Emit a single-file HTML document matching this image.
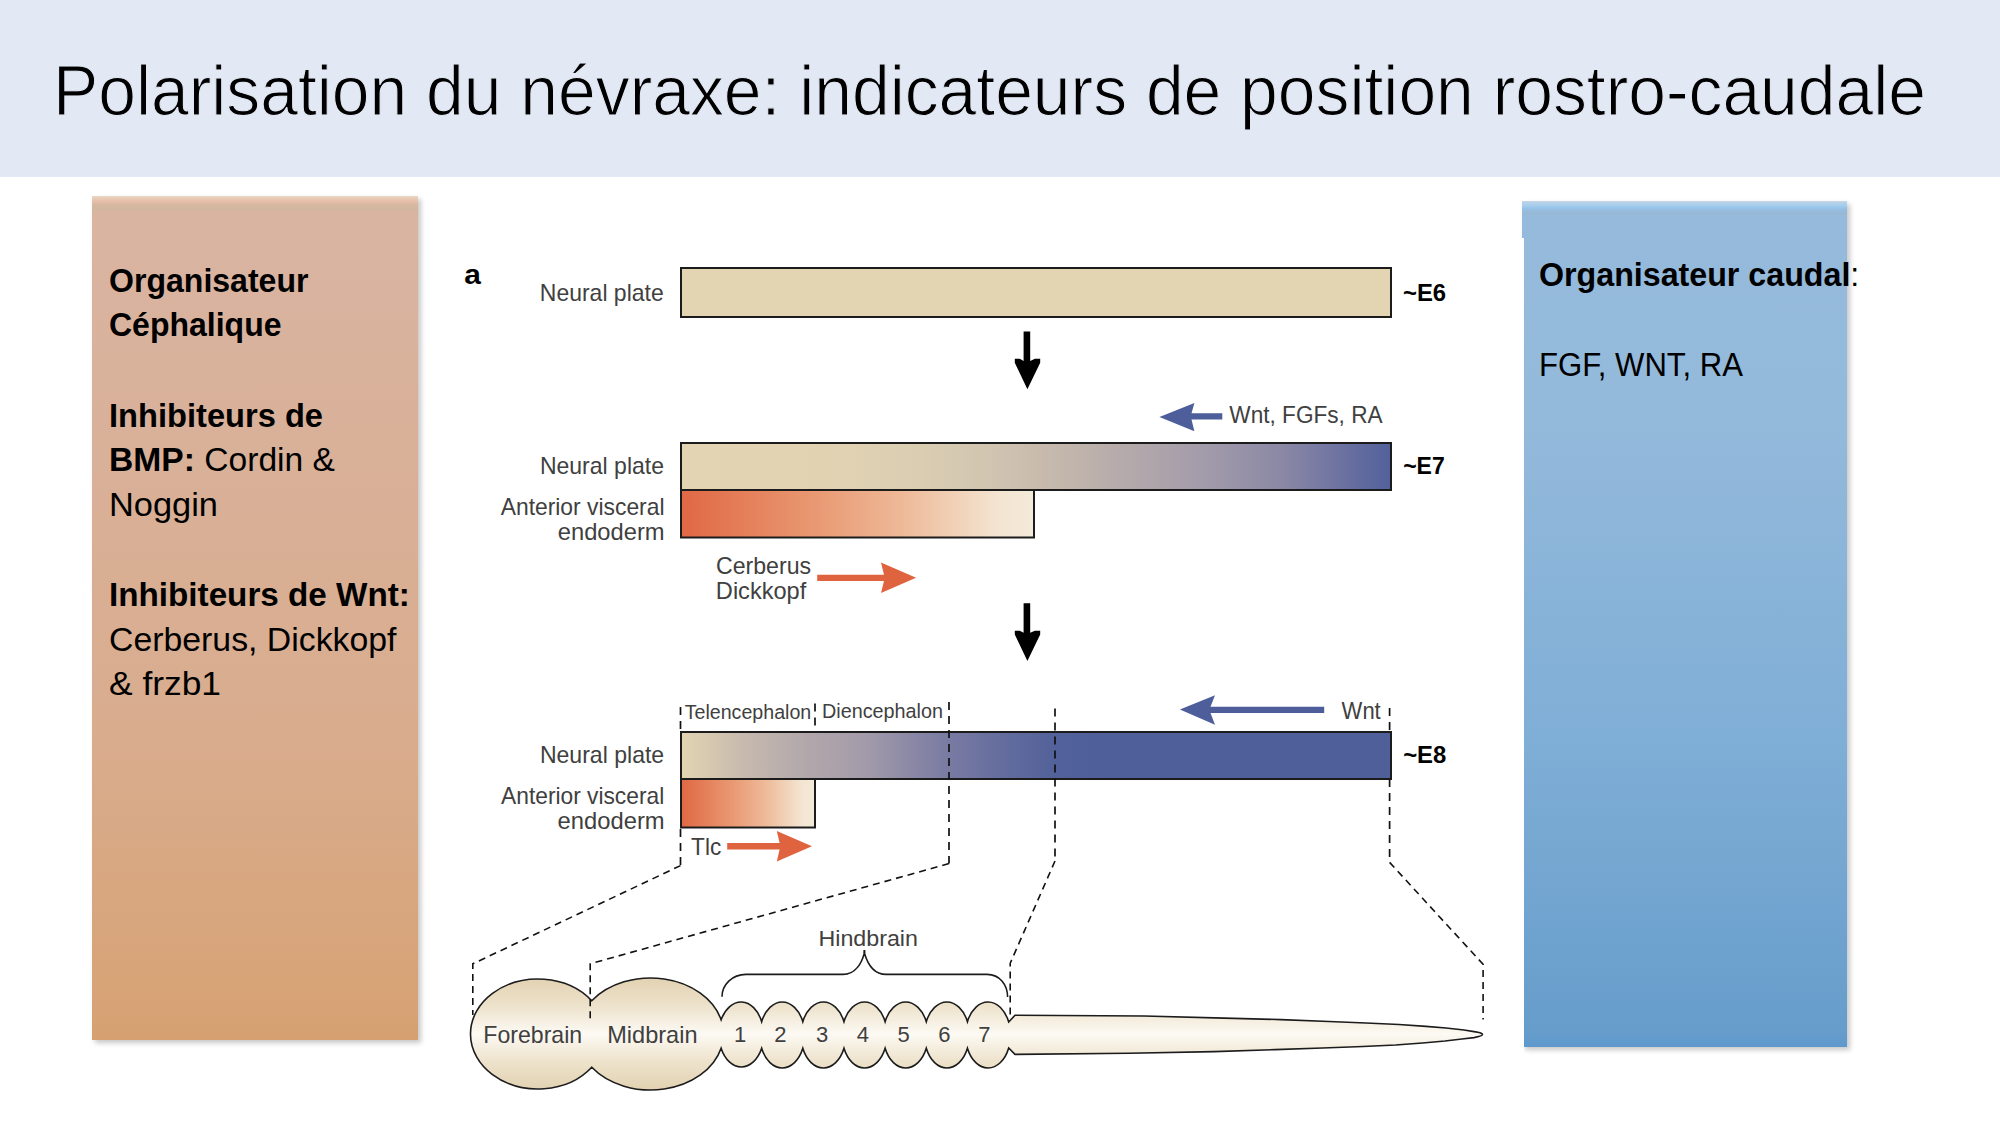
<!DOCTYPE html>
<html>
<head>
<meta charset="utf-8">
<style>
html,body{margin:0;padding:0;background:#fff;}
body{width:2000px;height:1125px;position:relative;overflow:hidden;font-family:"Liberation Sans",sans-serif;}
#hdr{position:absolute;left:0;top:0;width:2000px;height:177px;background:#E2E8F4;}
#lbox{position:absolute;left:92px;top:196px;width:326px;height:844px;
  background:linear-gradient(to bottom,#E6D8C4 0px,#E8C8B3 3px,#E5BCA8 6px,#D6B8A0 9px,#D1B89F 12px,#D9B3A1 16px) top/100% 16px no-repeat,
    linear-gradient(to bottom,#D9B4A1 0%,#D9B4A1 5%,#D9AC8D 65%,#D7A376 96%,#D6A070 100%);
  box-shadow:3px 3px 5px rgba(0,0,0,0.22);}
#rbox{position:absolute;left:1522px;top:201px;width:325px;height:846px;
  background:linear-gradient(to bottom,#C9D8E6 0px,#B5D0E8 2px,#A2CCEE 5px,#95BFE4 8px,#97B9D6 12px,#95BADC 16px) top/100% 16px no-repeat,
    linear-gradient(to bottom,#96BBDD 0%,#95BADC 2%,#93B9DB 27%,#7FAED6 64%,#679DCB 98%,#5E99CD 100%);
  box-shadow:3px 3px 5px rgba(0,0,0,0.22);}
#rcut{position:absolute;left:1490px;top:238px;width:34px;height:830px;background:#fff;}
svg{position:absolute;left:0;top:0;}
</style>
</head>
<body>
<div id="hdr"></div>
<div id="lbox"></div>
<div id="rbox"></div>
<div id="rcut"></div>
<svg width="2000" height="1125" viewBox="0 0 2000 1125">
<defs>
  <linearGradient id="g7" gradientUnits="userSpaceOnUse" x1="681" x2="1391" y1="0" y2="0">
    <stop offset="0.0000" stop-color="#E3D4B3"/>
    <stop offset="0.1676" stop-color="#E2D3B2"/>
    <stop offset="0.2521" stop-color="#DFD1B2"/>
    <stop offset="0.3366" stop-color="#DACDB2"/>
    <stop offset="0.4211" stop-color="#D3C6B1"/>
    <stop offset="0.5056" stop-color="#C8BBAD"/>
    <stop offset="0.6183" stop-color="#B6ABAB"/>
    <stop offset="0.7451" stop-color="#A19AAA"/>
    <stop offset="0.8465" stop-color="#8B88A5"/>
    <stop offset="0.9225" stop-color="#6F74A1"/>
    <stop offset="1.0000" stop-color="#52609C"/>
  </linearGradient>
  <linearGradient id="g8" gradientUnits="userSpaceOnUse" x1="681" x2="1391" y1="0" y2="0">
    <stop offset="0" stop-color="#E2D5B2"/>
    <stop offset="0.09" stop-color="#C7B9AE"/>
    <stop offset="0.18" stop-color="#B1A7AB"/>
    <stop offset="0.265" stop-color="#A29AAA"/>
    <stop offset="0.325" stop-color="#8A88A5"/>
    <stop offset="0.385" stop-color="#7779A2"/>
    <stop offset="0.47" stop-color="#5F6A9D"/>
    <stop offset="0.53" stop-color="#52619A"/>
    <stop offset="0.6" stop-color="#4F5F9A"/>
    <stop offset="1" stop-color="#4F5F9A"/>
  </linearGradient>
  <linearGradient id="gave" x1="0" x2="1" y1="0" y2="0">
    <stop offset="0" stop-color="#E06845"/>
    <stop offset="0.35" stop-color="#E8956E"/>
    <stop offset="0.62" stop-color="#EEB897"/>
    <stop offset="0.9" stop-color="#F3E5D2"/>
    <stop offset="1" stop-color="#F3EAD8"/>
  </linearGradient>
  <linearGradient id="gbrain" gradientUnits="userSpaceOnUse" x1="0" x2="0" y1="978" y2="1090">
    <stop offset="0" stop-color="#E2D2B2"/>
    <stop offset="0.25" stop-color="#EDE2CB"/>
    <stop offset="0.5" stop-color="#FDFAF4"/>
    <stop offset="0.75" stop-color="#EDE2CB"/>
    <stop offset="1" stop-color="#E2D2B2"/>
  </linearGradient>
  <linearGradient id="gtube" gradientUnits="userSpaceOnUse" x1="0" x2="0" y1="1015" y2="1055">
    <stop offset="0" stop-color="#F3EBDD"/>
    <stop offset="0.5" stop-color="#FDFAF4"/>
    <stop offset="1" stop-color="#F3EBDD"/>
  </linearGradient>
</defs>

<!-- title -->
<text x="53" y="114.5" font-family="Liberation Sans" font-size="70" fill="#000" stroke="#E2E8F4" stroke-width="1.1" textLength="1873" lengthAdjust="spacingAndGlyphs">Polarisation du névraxe: indicateurs de position rostro-caudale</text>

<!-- left box text -->
<g font-family="Liberation Sans" font-size="34" fill="#000">
  <text x="109" y="292" font-weight="bold" textLength="199.5" lengthAdjust="spacingAndGlyphs">Organisateur</text>
  <text x="109" y="336" font-weight="bold" textLength="172.5" lengthAdjust="spacingAndGlyphs">Céphalique</text>
  <text x="109" y="427" font-weight="bold" textLength="214" lengthAdjust="spacingAndGlyphs">Inhibiteurs de</text>
  <text x="109" y="471" textLength="226" lengthAdjust="spacingAndGlyphs"><tspan font-weight="bold">BMP:</tspan> Cordin &amp;</text>
  <text x="109" y="516" textLength="109" lengthAdjust="spacingAndGlyphs">Noggin</text>
  <text x="109" y="606" font-weight="bold" textLength="300.8" lengthAdjust="spacingAndGlyphs">Inhibiteurs de Wnt:</text>
  <text x="109" y="651" textLength="287.5" lengthAdjust="spacingAndGlyphs">Cerberus, Dickkopf</text>
  <text x="109" y="695" textLength="112" lengthAdjust="spacingAndGlyphs">&amp; frzb1</text>
</g>
<!-- right box text -->
<g font-family="Liberation Sans" font-size="34" fill="#000">
  <text x="1539" y="286" textLength="320.3" lengthAdjust="spacingAndGlyphs"><tspan font-weight="bold">Organisateur caudal</tspan>:</text>
  <text x="1539" y="376" textLength="203.9" lengthAdjust="spacingAndGlyphs">FGF, WNT, RA</text>
</g>

<!-- bars -->
<rect x="681" y="268" width="710" height="49" fill="#E3D4B2" stroke="#1c1c1c" stroke-width="2"/>
<rect x="681" y="443" width="710" height="47" fill="url(#g7)" stroke="#1c1c1c" stroke-width="2"/>
<rect x="681" y="490" width="353" height="47.5" fill="url(#gave)" stroke="#1c1c1c" stroke-width="2"/>
<rect x="681" y="732" width="710" height="47" fill="url(#g8)" stroke="#1c1c1c" stroke-width="2"/>
<rect x="681" y="779" width="134" height="48.5" fill="url(#gave)" stroke="#1c1c1c" stroke-width="2"/>

<!-- down arrows -->
<polygon points="1023.6,331.4 1030.2,331.4 1030.2,360.9 1034.9,358.8 1040.2,358.8 1040.2,362.7 1027.4,389.2 1014.8,362.7 1014.8,358.8 1019.8,358.8 1023.6,360.9" fill="#000"/>
<polygon points="1023.6,603.3 1030.2,603.3 1030.2,632.8 1034.9,630.7 1040.2,630.7 1040.2,634.6 1027.4,661.1 1014.8,634.6 1014.8,630.7 1019.8,630.7 1023.6,632.8" fill="#000"/>

<!-- blue arrows -->
<polygon points="1222.3,413.2 1222.3,419.4 1191.5,419.4 1194.4,431.3 1159.4,416.9 1194.4,403.1 1191.5,413.2" fill="#4E5E9B"/>
<polygon points="1324.2,706.7 1324.2,713.1 1210.5,713.1 1215,724.8 1179.9,709.6 1215,695.2 1210.5,706.7" fill="#4E5E9B"/>
<!-- orange arrows -->
<polygon points="817.2,574.7 884,574.7 881,562.4 916.1,577.8 881,593.1 884,581 817.2,581" fill="#E0633F"/>
<polygon points="727.2,843 779.6,843 776.8,831 812,846.2 776.8,861.4 779.6,849.4 727.2,849.4" fill="#E0633F"/>

<!-- brain -->
<path d="M591.76,1000.75 A73.0,56.0 0 0 1 721.11,1019.79 A22.5,33.0 0 0 1 761.66,1021.66 A22.5,33.0 0 0 1 802.81,1021.66 A22.5,33.0 0 0 1 843.97,1021.66 A22.5,33.0 0 0 1 885.13,1021.66 A22.5,33.0 0 0 1 926.29,1021.66 A22.5,33.0 0 0 1 967.44,1021.66 A22.5,33.0 0 0 1 1008.70,1021.99 L1015,1015.3 L1144,1016 L1224,1018.1 L1281,1019.6 L1329,1021.5 L1366,1023 L1399,1024.5 L1426,1026.4 L1446,1028 L1464,1030 L1474,1031.6 C1479,1032.3 1482.5,1033.2 1482.5,1034.6 C1482.5,1036 1479,1036.8 1474,1037.6 L1474,1037.6 L1462,1039 L1445,1041 L1422.5,1043 L1395.6,1045 L1363,1046.5 L1322.5,1048 L1275,1049.6 L1214,1051.6 L1129,1053.3 L1015,1054.4 L1008.70,1048.01 A22.5,33.0 0 0 1 967.44,1048.34 A22.5,33.0 0 0 1 926.29,1048.34 A22.5,33.0 0 0 1 885.13,1048.34 A22.5,33.0 0 0 1 843.97,1048.34 A22.5,33.0 0 0 1 802.81,1048.34 A22.5,33.0 0 0 1 761.66,1048.34 A22.5,33.0 0 0 1 721.11,1048.21 A73.0,56.0 0 0 1 591.76,1067.25 A67.5,55.0 0 1 1 591.76,1000.75 Z" fill="url(#gbrain)" stroke="#1c1c1c" stroke-width="1.6" stroke-linejoin="miter"/>
<!-- brace -->
<path d="M722,996.8 C722,985 732,974.4 746,974.4 L843,974.4 C856,974.4 862,962 864.4,953 C867,962 873,974.4 886,974.4 L987,974.4 C1000,974.4 1007.6,985 1007.6,997" fill="none" stroke="#1c1c1c" stroke-width="1.6"/>
<line x1="864.4" y1="953" x2="864.4" y2="950" stroke="#1c1c1c" stroke-width="2"/>

<!-- dashed projection lines -->
<g fill="none" stroke="#111" stroke-width="1.7" stroke-dasharray="8,6">
  <path d="M680.5,707 L680.5,731"/>
  <path d="M815,703.4 L815,731"/>
  <path d="M949,702 L949,863.6"/>
  <path d="M1055,708.5 L1055,861"/>
  <path d="M1389.6,708 L1389.6,731"/>
  <path d="M1389.6,779 L1389.6,862.4"/>
  <path d="M680.5,829 L680.5,865.6"/>
</g>
<g fill="none" stroke="#111" stroke-width="1.6" stroke-dasharray="7,5">
  <path d="M680.5,865.6 L472.8,963.8 L472.8,1015"/>
  <path d="M949,863.6 L590.2,963.8 L590.2,1019"/>
  <path d="M1055,861 L1010.2,963.3 L1010.2,1017.4"/>
  <path d="M1389.6,862.4 L1483.1,964.3 L1483.1,1019.4"/>
</g>
<!-- labels -->
<g font-family="Liberation Sans" fill="#404040">
  <text x="464.15" y="283.6" font-size="28" font-weight="bold" fill="#000" textLength="16.61" lengthAdjust="spacingAndGlyphs">a</text>
  <text x="539.82" y="300.5" font-size="23.2" textLength="123.87" lengthAdjust="spacingAndGlyphs">Neural plate</text>
  <text x="1403.03" y="300.7" font-size="24.5" font-weight="bold" fill="#000" textLength="43.12" lengthAdjust="spacingAndGlyphs">~E6</text>
  <text x="1229.30" y="423.1" font-size="23.5" textLength="153.28" lengthAdjust="spacingAndGlyphs">Wnt, FGFs, RA</text>
  <text x="539.92" y="473.5" font-size="23.2" textLength="124.08" lengthAdjust="spacingAndGlyphs">Neural plate</text>
  <text x="500.70" y="514.8" font-size="23.2" textLength="163.80" lengthAdjust="spacingAndGlyphs">Anterior visceral</text>
  <text x="557.78" y="540" font-size="23.2" textLength="106.83" lengthAdjust="spacingAndGlyphs">endoderm</text>
  <text x="1403.16" y="474" font-size="24.5" font-weight="bold" fill="#000" textLength="41.55" lengthAdjust="spacingAndGlyphs">~E7</text>
  <text x="716.00" y="574.1" font-size="23.2" textLength="95.11" lengthAdjust="spacingAndGlyphs">Cerberus</text>
  <text x="715.87" y="599.4" font-size="23.2" textLength="90.39" lengthAdjust="spacingAndGlyphs">Dickkopf</text>
  <text x="684.72" y="718.6" font-size="20.5" textLength="126.55" lengthAdjust="spacingAndGlyphs">Telencephalon</text>
  <text x="821.96" y="718.3" font-size="20.5" textLength="121.07" lengthAdjust="spacingAndGlyphs">Diencephalon</text>
  <text x="1341.61" y="718.7" font-size="23.2" textLength="39.13" lengthAdjust="spacingAndGlyphs">Wnt</text>
  <text x="539.91" y="762.5" font-size="23.2" textLength="124.28" lengthAdjust="spacingAndGlyphs">Neural plate</text>
  <text x="501.10" y="803.6" font-size="23.2" textLength="163.09" lengthAdjust="spacingAndGlyphs">Anterior visceral</text>
  <text x="557.58" y="828.8" font-size="23.2" textLength="107.03" lengthAdjust="spacingAndGlyphs">endoderm</text>
  <text x="1403.13" y="762.75" font-size="24.5" font-weight="bold" fill="#000" textLength="43.13" lengthAdjust="spacingAndGlyphs">~E8</text>
  <text x="691.11" y="854.6" font-size="23.2" textLength="30.10" lengthAdjust="spacingAndGlyphs">Tlc</text>
  <text x="818.46" y="945.6" font-size="22.8" textLength="99.45" lengthAdjust="spacingAndGlyphs">Hindbrain</text>
  <text x="483.31" y="1043.1" font-size="23.2" textLength="98.88" lengthAdjust="spacingAndGlyphs">Forebrain</text>
  <text x="607.27" y="1043.1" font-size="23.2" textLength="90.22" lengthAdjust="spacingAndGlyphs">Midbrain</text>
  <text x="733.95" y="1042.4" font-size="22">1</text>
  <text x="774.30" y="1042.4" font-size="22">2</text>
  <text x="815.95" y="1042.4" font-size="22">3</text>
  <text x="856.75" y="1042.4" font-size="22">4</text>
  <text x="897.50" y="1042.4" font-size="22">5</text>
  <text x="938.20" y="1042.4" font-size="22">6</text>
  <text x="978.30" y="1042.4" font-size="22">7</text>
</g>
</svg>
</body>
</html>
